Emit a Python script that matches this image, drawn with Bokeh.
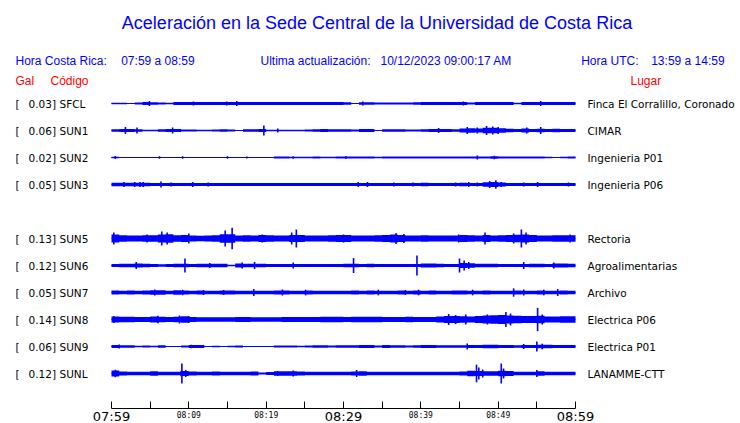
from bokeh.plotting import figure
from bokeh.models import Range1d, FixedTicker, Label, LabelSet, ColumnDataSource, LinearAxis
from bokeh.core.properties import value
from bokeh.embed import file_html
from bokeh.resources import INLINE

# ---------------- data ----------------
TITLE = "Aceleración en la Sede Central de la Universidad de Costa Rica"
HORA_CR = "07:59 a 08:59"
ACTUALIZACION = "10/12/2023 09:00:17 AM"
HORA_UTC = "13:59 a 14:59"

SLOTS = ["SFCL", "SUN1", "SUN2", "SUN3", "SUN4", "SUN5", "SUN6", "SUN7", "SUN8", "SUN9", "SUNL"]
CODES = ["SFCL", "SUN1", "SUN2", "SUN3", "SUN5", "SUN6", "SUN7", "SUN8", "SUN9", "SUNL"]
PEAK_GAL = [0.03, 0.06, 0.02, 0.05, 0.13, 0.12, 0.05, 0.14, 0.06, 0.12]
PLACES = ["Finca El Corralillo, Coronado", "CIMAR", "Ingenieria P01", "Ingenieria P06",
          "Rectoria", "Agroalimentarias", "Archivo", "Electrica P06", "Electrica P01", "LANAMME-CTT"]

BIG_TICKS = [0, 30, 60]
BIG_LABELS = ["07:59", "08:29", "08:59"]
MINOR_TICKS = [5, 10, 15, 20, 25, 35, 40, 45, 50, 55]
SMALL_TICKS = [10, 20, 40, 50]
SMALL_LABELS = ["08:09", "08:19", "08:39", "08:49"]

# one-minute bins, envelope half-amplitude in mGal
BIN_START = list(range(60))

ENV_SFCL = [10, 10, 7, 11, 18, 14, 11, 10, 18, 18,
            18, 17, 18, 18, 18, 18, 18, 18, 18, 17,
            18, 18, 18, 18, 18, 18, 18, 17, 18, 18,
            14, 7, 16, 16, 12, 11, 11, 11, 13, 16,
            17, 18, 18, 18, 18, 18, 11, 18, 18, 18,
            18, 18, 10, 18, 18, 18, 18, 18, 18, 18]
ENV_SUN1 = [16, 18, 17, 16, 10, 8, 14, 18, 18, 12,
            11, 10, 10, 11, 16, 13, 7, 16, 16, 18,
            8, 10, 8, 10, 10, 11, 16, 17, 14, 14,
            16, 11, 17, 17, 7, 14, 14, 14, 11, 13,
            14, 18, 18, 18, 14, 24, 26, 24, 34, 34,
            26, 22, 19, 24, 18, 22, 19, 20, 18, 18]
ENV_SUN2 = [10, 6, 6, 6, 6, 6, 6, 6, 6, 6,
            6, 6, 6, 6, 6, 6, 6, 6, 6, 6,
            6, 11, 11, 8, 10, 8, 11, 8, 10, 12,
            11, 12, 12, 12, 8, 12, 12, 11, 12, 11,
            12, 12, 12, 11, 12, 12, 12, 12, 13, 14,
            13, 13, 11, 12, 11, 12, 8, 7, 10, 12]
ENV_SUN3 = [20, 20, 20, 20, 20, 19, 19, 19, 19, 19,
            19, 19, 19, 19, 18, 19, 19, 19, 19, 19,
            19, 19, 18, 19, 19, 19, 19, 19, 19, 19,
            18, 19, 19, 19, 19, 19, 19, 19, 19, 19,
            20, 19, 19, 19, 19, 20, 19, 19, 26, 30,
            24, 19, 19, 19, 19, 19, 19, 19, 19, 19]
ENV_SUN5 = [48, 40, 36, 36, 40, 38, 48, 50, 40, 42,
            36, 34, 36, 40, 50, 50, 36, 38, 36, 43,
            40, 36, 36, 43, 43, 36, 36, 36, 40, 42,
            42, 36, 36, 36, 38, 43, 48, 42, 36, 36,
            38, 36, 36, 36, 36, 41, 40, 36, 43, 36,
            38, 43, 44, 48, 41, 36, 36, 38, 40, 40]
ENV_SUN6 = [19, 22, 20, 24, 22, 18, 16, 18, 20, 22,
            19, 22, 20, 20, 22, 10, 24, 22, 22, 20,
            19, 18, 19, 19, 19, 18, 18, 18, 19, 19,
            20, 22, 19, 20, 19, 19, 19, 18, 18, 19,
            24, 24, 22, 18, 18, 30, 26, 22, 20, 20,
            19, 18, 18, 19, 22, 20, 19, 24, 24, 22]
ENV_SUN7 = [24, 22, 24, 20, 24, 26, 26, 22, 26, 24,
            20, 24, 22, 20, 24, 23, 20, 20, 22, 20,
            22, 24, 24, 20, 20, 24, 20, 20, 20, 20,
            20, 23, 20, 24, 20, 22, 20, 24, 20, 23,
            20, 24, 22, 20, 23, 25, 22, 20, 24, 22,
            20, 20, 24, 22, 22, 24, 20, 22, 24, 22]
ENV_SUN8 = [36, 34, 34, 29, 30, 36, 34, 30, 34, 38,
            31, 26, 26, 26, 28, 26, 29, 30, 26, 26,
            26, 28, 31, 31, 30, 31, 31, 34, 32, 34,
            31, 32, 34, 34, 34, 29, 31, 31, 34, 31,
            29, 31, 36, 42, 42, 40, 36, 42, 48, 50,
            54, 48, 46, 43, 42, 46, 36, 36, 38, 38]
ENV_SUN9 = [18, 14, 16, 10, 11, 8, 16, 7, 7, 12,
            17, 17, 7, 8, 6, 10, 11, 6, 6, 6,
            7, 12, 11, 12, 10, 12, 14, 14, 12, 14,
            16, 14, 18, 18, 13, 17, 16, 16, 13, 14,
            18, 18, 14, 16, 16, 16, 17, 18, 22, 22,
            19, 18, 14, 19, 18, 22, 22, 19, 19, 19]
ENV_SUNL = [36, 24, 22, 20, 22, 28, 20, 20, 22, 30,
            24, 20, 22, 24, 22, 22, 20, 22, 24, 12,
            19, 26, 26, 28, 24, 22, 20, 22, 20, 22,
            22, 24, 26, 22, 22, 22, 20, 22, 22, 20,
            22, 22, 22, 22, 22, 24, 34, 31, 28, 28,
            34, 29, 22, 22, 22, 28, 22, 22, 22, 20]

# isolated peaks: (minute after 07:59, half-amplitude in mGal)
SPK_SFCL = [(4.9, 30), (10.6, 24), (14.9, 24), (16.2, 30), (32.5, 24), (45.5, 24), (55.5, 30)]
SPK_SUN1 = [(1.8, 42), (3.3, 36), (7.9, 36), (19.7, 60), (21.5, 24), (42.3, 30), (46.0, 42),
            (47.3, 36), (48.5, 54), (49.3, 48), (50.0, 42), (53.7, 36), (55.5, 42)]
SPK_SUN2 = [(0.5, 18), (6.2, 14), (9.2, 14), (15.0, 14), (17.5, 12), (23.5, 14), (30.3, 14),
            (47.3, 24), (49.5, 22)]
SPK_SUN3 = [(1.6, 30), (3.0, 30), (3.7, 30), (4.1, 30), (6.4, 36), (7.7, 24), (10.5, 30),
            (12.5, 24), (31.9, 30), (33.1, 30), (36.5, 24), (39.0, 24), (44.5, 24), (46.2, 30),
            (47.3, 24), (48.9, 42), (49.7, 50), (50.4, 30), (53.3, 24), (55.1, 30), (59.1, 24)]
SPK_SUN5 = [(0.3, 72), (4.6, 48), (6.5, 84), (7.2, 72), (10.0, 60), (14.7, 96), (15.6, 130),
            (19.5, 48), (23.3, 72), (23.9, 108), (30.0, 48), (36.8, 66), (37.8, 54), (44.9, 48),
            (48.3, 72), (52.0, 60), (53.0, 108), (53.6, 72), (59.3, 48)]
SPK_SUN6 = [(3.2, 42), (9.5, 84), (12.7, 30), (16.9, 36), (18.5, 42), (23.5, 36), (31.3, 90),
            (39.5, 120), (45.0, 84), (45.6, 60), (46.2, 42), (53.3, 42), (57.2, 36)]
SPK_SUN7 = [(5.6, 36), (9.2, 34), (11.9, 30), (14.5, 30), (18.4, 42), (22.1, 36), (25.1, 34),
            (34.5, 34), (38.0, 30), (39.7, 34), (46.7, 34), (52.0, 50), (53.3, 36), (55.9, 34),
            (57.7, 42)]
SPK_SUN8 = [(0.3, 42), (6.0, 46), (8.8, 48), (10.0, 42), (43.6, 66), (44.5, 54), (45.8, 60),
            (48.6, 60), (51.0, 90), (51.6, 72), (55.1, 140), (55.7, 60)]
SPK_SUN9 = [(1.0, 24), (10.3, 22), (46.0, 36), (53.3, 30), (55.0, 60), (55.7, 34)]
SPK_SUNL = [(0.5, 46), (9.0, 34), (9.1, 120), (9.6, 42), (21.5, 30), (23.5, 36), (31.7, 42),
            (47.2, 106), (47.5, 72), (48.0, 48), (50.4, 120), (50.7, 60), (55.0, 42)]

ENVS = [ENV_SFCL, ENV_SUN1, ENV_SUN2, ENV_SUN3, ENV_SUN5, ENV_SUN6, ENV_SUN7, ENV_SUN8, ENV_SUN9, ENV_SUNL]
SPKS = [SPK_SFCL, SPK_SUN1, SPK_SUN2, SPK_SUN3, SPK_SUN5, SPK_SUN6, SPK_SUN7, SPK_SUN8, SPK_SUN9, SPK_SUNL]

# ---------------- layout ----------------
W, H = 740, 423
X0_PX, X1_PX = 111, 575       # x of 07:59 and 08:59
ROW0_PX, ROW_PX = 103, 27     # y of first trace, spacing
AXIS_PX = 408                 # y of time axis
PX_PER_MIN = (X1_PX - X0_PX) / 60.0
MGAL_PER_PX = 12.0
AMP = 1.0 / (MGAL_PER_PX * ROW_PX)   # mGal -> row units

BLUE = "#0000FF"
RED = "#FF0000"


def mx(px):
    return (px - X0_PX) / PX_PER_MIN


def ry(py):
    return (py - ROW0_PX) / ROW_PX


p = figure(width=W, height=H,
           x_range=Range1d(mx(0), mx(W)),
           y_range=Range1d(ry(H), ry(0)),
           output_backend="svg", toolbar_location=None,
           y_axis_location=None, x_axis_location=None,
           min_border=0, min_border_left=0, min_border_right=0, min_border_top=0,
           min_border_bottom=0)
p.grid.visible = False
p.outline_line_color = None
p.background_fill_color = "white"
p.border_fill_color = "white"

ax = LinearAxis(fixed_location=ry(AXIS_PX))
ax.ticker = FixedTicker(ticks=BIG_TICKS, minor_ticks=MINOR_TICKS)
ax.major_label_overrides = dict(zip(BIG_TICKS, BIG_LABELS))
ax.bounds = (0, 60)
ax.axis_line_color = "black"
ax.axis_line_width = 1
ax.major_tick_line_color = "black"
ax.major_tick_in = 7
ax.major_tick_out = 0
ax.minor_tick_line_color = "black"
ax.minor_tick_in = 7
ax.minor_tick_out = 0
ax.major_label_text_font = "DejaVu Sans"
ax.major_label_text_font_size = "13px"
ax.major_label_text_color = "black"
ax.major_label_standoff = 0
p.add_layout(ax, "below")

# ---------------- traces ----------------
for code, env, spk in zip(CODES, ENVS, SPKS):
    r = SLOTS.index(code)
    xs = BIN_START + [60]
    a = env + [env[-1]]
    p.varea_step(x=xs, y1=[r - v * AMP for v in a], y2=[r + v * AMP for v in a],
                 step_mode="after", fill_color=BLUE)
    p.segment(x0=[0], x1=[60], y0=[r], y1=[r], line_color=BLUE, line_width=1)
    ts = [t for t, _ in spk]
    am = [v for _, v in spk]
    p.segment(x0=ts, x1=ts, y0=[r - v * AMP for v in am], y1=[r + v * AMP for v in am],
              line_color=BLUE, line_width=1.6)

# ---------------- row labels ----------------
rows = [SLOTS.index(c) for c in CODES]
src = ColumnDataSource(dict(
    y=rows,
    br=["["] * len(rows),
    val=[f"{v:.2f}]" for v in PEAK_GAL],
    code=CODES,
    place=PLACES,
    xb=[mx(15)] * len(rows),
    xv=[mx(55.5)] * len(rows),
    xc=[mx(59)] * len(rows),
    xp=[mx(587)] * len(rows),
))
common = dict(source=src, y="y", text_font=value("DejaVu Sans"), text_font_size="10.5px",
              text_color="black", text_baseline="middle")
p.add_layout(LabelSet(x="xb", text="br", text_align="left", **common))
p.add_layout(LabelSet(x="xv", text="val", text_align="right", **common))
p.add_layout(LabelSet(x="xc", text="code", text_align="left", **common))
p.add_layout(LabelSet(x="xp", text="place", text_align="left", **common))


# ---------------- headers ----------------
def lab(x_px, y_px, text, color, size, font="Liberation Sans", align="left"):
    p.add_layout(Label(x=mx(x_px), y=ry(y_px), text=text, text_color=color,
                       text_font=font, text_font_size=size, text_align=align,
                       text_baseline="middle"))


lab(376.5, 22, TITLE, BLUE, "18px", align="center")
lab(15, 60.5, "Hora Costa Rica:", BLUE, "12px")
lab(120.7, 60.5, HORA_CR, BLUE, "12px")
lab(260, 60.5, "Ultima actualización:", BLUE, "12px")
lab(380, 60.5, ACTUALIZACION, BLUE, "12px")
lab(580.7, 60.5, "Hora UTC:", BLUE, "12px")
lab(650.7, 60.5, HORA_UTC, BLUE, "12px")
lab(15, 80.5, "Gal", RED, "12px")
lab(50, 80.5, "Código", RED, "12px")
lab(630, 80.5, "Lugar", RED, "12px")

# ---------------- small time labels ----------------
for t, s in zip(SMALL_TICKS, SMALL_LABELS):
    p.add_layout(Label(x=t, y=ry(415), text=s, text_align="center", text_baseline="middle",
                       text_font="DejaVu Sans Mono", text_font_size="8px", text_color="black"))

open("out.html", "w").write(file_html(p, INLINE))
